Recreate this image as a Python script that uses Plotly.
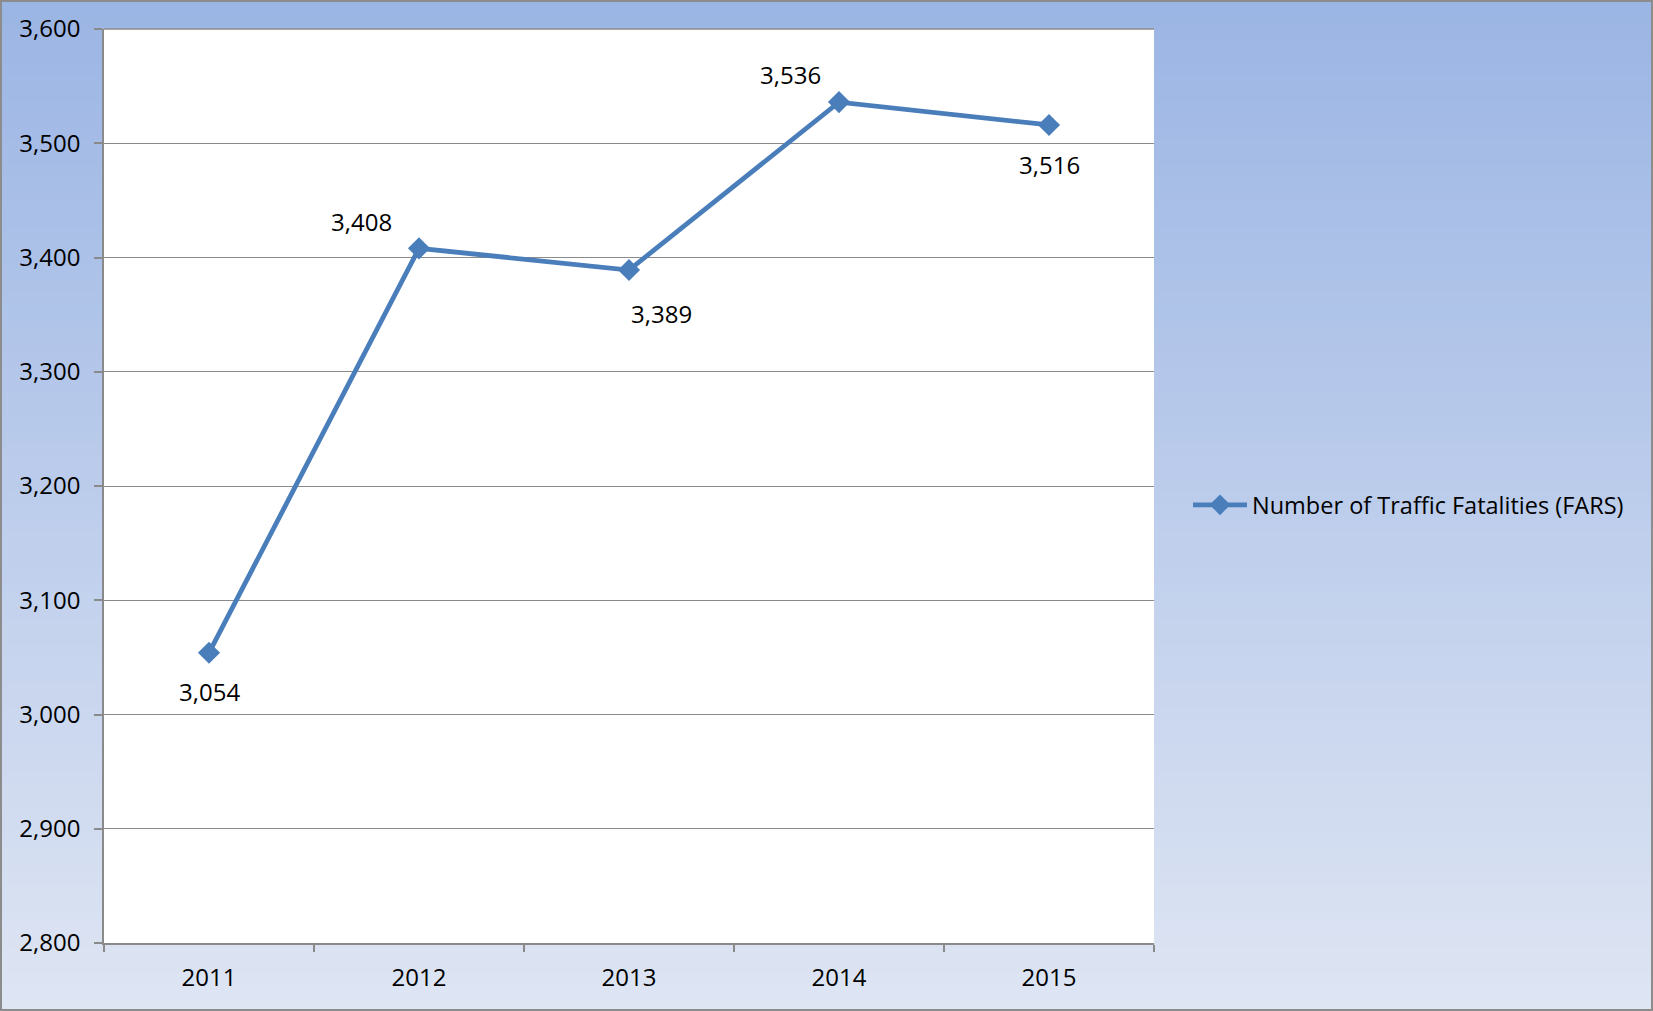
import plotly.graph_objects as go

years = ["2011", "2012", "2013", "2014", "2015"]
fatalities = [3054, 3408, 3389, 3536, 3516]
label_text = ["3,054", "3,408", "3,389", "3,536", "3,516"]
series_name = "Number of Traffic Fatalities (FARS)"

# label offsets (px) relative to each point
label_dx = [0, -58, 32, -49, 0]
label_dy = [-39, 27, -43, 28, -40]

W, H = 1653, 1011
ml, mr, mt, mb = 104, 499, 29, 68
pw, ph = W - ml - mr, H - mt - mb

FONT = "Open Sans"
LINE_COLOR = "#4A7EBB"
GRID = "#8A8A8A"

fig = go.Figure()
fig.add_trace(go.Scatter(
    x=years, y=fatalities, mode="lines+markers", name=series_name,
    line=dict(color=LINE_COLOR, width=4.8),
    marker=dict(symbol="diamond", size=17, color=LINE_COLOR),
))

for i, (y, t, dx, dy) in enumerate(zip(fatalities, label_text, label_dx, label_dy)):
    fig.add_annotation(x=i, y=y, xref="x", yref="y", text=t, showarrow=False,
                       xshift=dx, yshift=dy,
                       font=dict(family=FONT, size=24, color="black"))

# gradient background strips
top = (155, 181, 228)
bot = (222, 229, 243)
n = 80
x0p, x1p = -ml / pw, (W - ml) / pw
y0p, y1p = -mb / ph, 1 + mt / ph
shapes = []
for i in range(n):
    f = i / (n - 1)
    c = tuple(round(top[k] + (bot[k] - top[k]) * f) for k in range(3))
    ya = y1p - (y1p - y0p) * i / n
    yb = y1p - (y1p - y0p) * (i + 1) / n
    shapes.append(dict(type="rect", xref="paper", yref="paper", x0=x0p, x1=x1p,
                       y0=yb - 0.002, y1=ya, fillcolor="rgb(%d,%d,%d)" % c,
                       line=dict(width=0), layer="below"))
shapes.append(dict(type="rect", xref="x domain", yref="y domain", x0=0, x1=1, y0=0, y1=1,
                   fillcolor="white", line=dict(width=0), layer="below"))
shapes.append(dict(type="rect", xref="x domain", yref="y domain", x0=0, x1=1, y0=1, y1=1,
                   line=dict(color=GRID, width=1.5), layer="above"))
shapes.append(dict(type="rect", xref="paper", yref="paper", x0=x0p, x1=x1p, y0=y0p, y1=y1p,
                   line=dict(color="#8C8C8C", width=4), fillcolor="rgba(0,0,0,0)", layer="above"))

fig.update_layout(
    width=W, height=H,
    margin=dict(l=ml, r=mr, t=mt, b=mb, pad=0),
    paper_bgcolor="#DEE5F3", plot_bgcolor="white",
    font=dict(family=FONT, size=24, color="black"),
    shapes=shapes,
    showlegend=True,
    legend=dict(x=(1188 - ml) / pw, y=(H - 505 - mb) / ph, xanchor="left", yanchor="middle",
                bgcolor="rgba(0,0,0,0)", font=dict(family=FONT, size=23.5),
                itemwidth=54, tracegroupgap=0),
)
fig.update_xaxes(
    type="category", range=[-0.5, 4.5], showgrid=False,
    showline=True, linecolor=GRID, linewidth=1.5,
    ticks="outside", tickson="boundaries", ticklen=7, tickcolor=GRID, tickwidth=1.5,
    ticklabelstandoff=12,
)
fig.update_yaxes(
    range=[2800, 3600], dtick=100, tickformat=",d",
    showgrid=True, gridcolor=GRID, gridwidth=1.3,
    showline=True, linecolor=GRID, linewidth=1.5,
    ticks="outside", ticklen=8, tickcolor=GRID, tickwidth=1.5,
    ticklabelstandoff=9, zeroline=False,
)

fig.write_html("out.html", config={"displayModeBar": False},
               post_script="document.body.style.margin='0';document.body.style.overflow='hidden';")
